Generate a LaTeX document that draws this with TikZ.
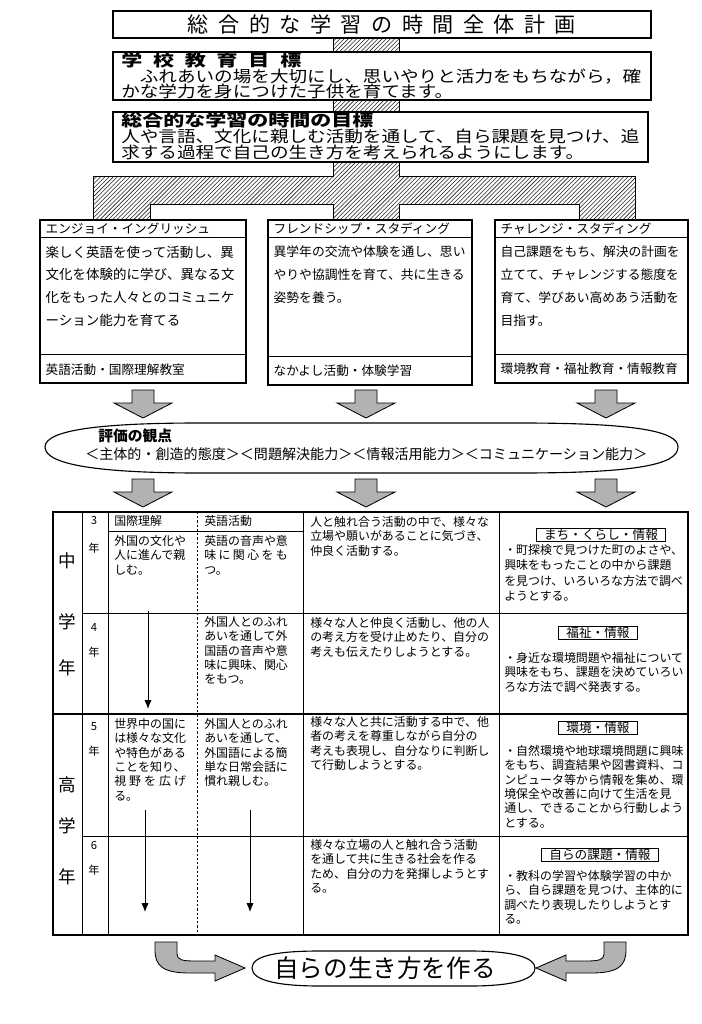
\documentclass[tikz,border=0pt]{standalone}
\usepackage{fontspec}
\setmainfont{Noto Sans CJK JP}
\newfontfamily\widecjk[FakeStretch=1.16]{Noto Sans CJK JP}
\newfontfamily\headcjk[FakeStretch=1.3]{Noto Sans CJK JP}
\usetikzlibrary{shapes.geometric, arrows.meta, positioning, calc, patterns}

\begin{document}
\begin{tikzpicture}[
  x=0.25mm, y=-0.25mm,
  frame/.style={draw=black, line width=0.9pt},
  hatch/.style={draw=black, line width=0.7pt, pattern=north east lines, pattern color=black!85},
  dots/.style={draw=black, line width=0.6pt, fill=black!30},
  txt/.style={anchor=north west, align=left, inner sep=0pt},
  goal/.style={txt, font={\widecjk\fontsize{11.4}{11.1}\selectfont\lineskiplimit=-5pt}},
  head/.style={txt, font={\headcjk\bfseries\fontsize{11.5}{13}\selectfont}},
  colttl/.style={anchor=west, inner sep=0pt, font=\fontsize{9}{11}\selectfont},
  colbody/.style={txt, font=\fontsize{9.1}{16.3}\selectfont},
  cell/.style={txt, font=\fontsize{8.5}{10.2}\selectfont},
  tag/.style={draw=black, line width=0.7pt, inner xsep=0.2cm, inner ysep=0.6pt,
              font=\fontsize{9}{11}\selectfont},
  side/.style={inner sep=0pt, font=\fontsize{12.5}{14}\selectfont},
  grade/.style={inner sep=0pt, font=\fontsize{8}{10}\selectfont},
  tline/.style={line width=0.6pt},
  tbold/.style={line width=1pt},
  outline/.style={draw=black, line width=0.8pt},
  down/.style={-{Latex[length=2.2mm,width=1.8mm]}, line width=0.7pt},
  blockdown/.pic={\path[dots] (-11,0) -- (11,0) -- (11,13) -- (29,13) -- (0,28)
                  -- (-29,13) -- (-11,13) -- cycle;},
  bendarrow/.pic={\path[dots] (0,0) -- (22,0) -- (22,12) .. controls (22,18) and (28,19) .. (40,19)
                  -- (60,19) -- (60,13) -- (90,26) -- (60,39) -- (60,31) -- (35,31)
                  .. controls (8,31) and (0,24) .. (0,8) -- cycle;},
]
\useasboundingbox (0,0) rectangle (701,1024);
% goals at the top
\node (title)  [frame, minimum width=13.45cm, minimum height=0.675cm, inner sep=0pt,
                font=\fontsize{15}{17}\selectfont] at (382,24.5)
  {\makebox[9.7cm][s]{総 合 的 な 学 習 の 時 間 全 体 計 画}};
\node (school) [frame, minimum width=13.45cm, minimum height=1.2cm] at (382,76) {};
\node (period) [frame, minimum width=13.375cm, minimum height=1.25cm] at (380.5,137) {};
\node (schoolhead) [head] at (121,52) {\makebox[4.5cm][s]{学 校 教 育 目 標}};
\node (schooltxt)  [goal] at (121,68.5)
  {　ふれあいの場を大切にし、思いやりと活力をもちながら，確\\
   かな学力を身につけた子供を育てます。};
\node (periodhead) [head] at (121,112.5) {総合的な学習の時間の目標};
\node (periodtxt)  [goal] at (121,129)
  {人や言語、文化に親しむ活動を通して、自ら課題を見つけ、追\\
   求する過程で自己の生き方を考えられるようにします。};
% three strands
\node (enjoy)  [frame, minimum width=5.15cm, minimum height=4.075cm] at (143,301.5) {};
\node (friend) [frame, minimum width=5.1cm, minimum height=4.125cm] at (370,302.5) {};
\node (chal)   [frame, minimum width=4.825cm, minimum height=4.075cm] at (591.5,301.5) {};
% hatched links
\path[hatch] ($(title.south)+(-49,0)$) rectangle ($(school.north)+(17,0)$);
\path[hatch] ($(school.south)+(-49,0)$) rectangle ($(period.north)+(18.5,0)$);
\path[hatch] ($(period.south)+(-47.5,0)$) -- ++(66,0) -- ++(0,14)
      -| ($(chal.north)+(43.5,0)$) -- ++(-56,0) -- ++(0,-15)
      -| ($(friend.north)+(29,0)$) -- ++(-66,0) -- ++(0,-15)
      -| ($(enjoy.north)+(7,0)$) -- ++(-57,0)
      |- ($(period.south)+(-47.5,14)$) -- cycle;
\draw[frame] (enjoy.north west) rectangle (enjoy.south east);
\draw[frame] (friend.north west) rectangle (friend.south east);
\draw[frame] (chal.north west) rectangle (chal.south east);
\draw[tline] ($(enjoy.north west)+(0,18)$) -- ($(enjoy.north east)+(0,18)$);
\draw[tline] ($(enjoy.north west)+(0,135)$) -- ($(enjoy.north east)+(0,135)$);
\draw[tline] ($(friend.north west)+(0,18)$) -- ($(friend.north east)+(0,18)$);
\draw[tline] ($(friend.north west)+(0,137)$) -- ($(friend.north east)+(0,137)$);
\draw[tline] ($(chal.north west)+(0,18)$) -- ($(chal.north east)+(0,18)$);
\draw[tline] ($(chal.north west)+(0,135)$) -- ($(chal.north east)+(0,135)$);
\node (enjoyttl)  [colttl] at ($(enjoy.north west)+(6,9.5)$) {エンジョイ・イングリッシュ};
\node (enjoybody) [colbody, font=\fontsize{9.6}{16.3}\selectfont] at ($(enjoy.north west)+(6,26)$)
  {楽しく英語を使って活動し、異\\文化を体験的に学び、異なる文\\化をもった人々とのコミュニケ\\ーション能力を育てる};
\node (enjoyfoot) [colttl] at ($(enjoy.north west)+(6,150)$) {英語活動・国際理解教室};
\node (friendttl)  [colttl] at ($(friend.north west)+(6,9.5)$) {フレンドシップ・スタディング};
\node (friendbody) [colbody] at ($(friend.north west)+(6,26)$)
  {異学年の交流や体験を通し、思い\\やりや協調性を育て、共に生きる\\姿勢を養う。};
\node (friendfoot) [colttl] at ($(friend.north west)+(6,151)$) {なかよし活動・体験学習};
\node (chalttl)  [colttl] at ($(chal.north west)+(6,9.5)$) {チャレンジ・スタディング};
\node (chalbody) [colbody] at ($(chal.north west)+(6,26)$)
  {自己課題をもち、解決の計画を\\立てて、チャレンジする態度を\\育て、学びあい高めあう活動を\\目指す。};
\node (chalfoot) [colttl] at ($(chal.north west)+(6,149)$) {環境教育・福祉教育・情報教育};
% viewpoints
\pic at (143,390) {blockdown};
\pic at (366,390) {blockdown};
\pic at (606,390) {blockdown};
\path[outline] (45,447) .. controls (45,430) and (100,423) .. (200,423) -- (520,423)
      .. controls (640,423) and (678,432) .. (678,447) .. controls (678,464) and (640,473) .. (520,473)
      -- (200,473) .. controls (100,473) and (45,465) .. cycle;
\node (evalhead) [txt, font=\bfseries\fontsize{10.5}{12}\selectfont] at (98,429) {評価の観点};
\node (evalpts)  [txt, font=\fontsize{10}{12}\selectfont] at (85,447)
  {＜主体的・創造的態度＞＜問題解決能力＞＜情報活用能力＞＜コミュニケーション能力＞};
\pic at (143,479) {blockdown};
\pic at (366,479) {blockdown};
\pic at (606,479) {blockdown};
% table
\draw[tbold] (53,512) rectangle (688,935);
\draw[tline] (82,512) -- (82,935);
\draw[tline] (108,512) -- (108,935);
\draw[tline] (303,512) -- (303,935);
\draw[tline] (499,512) -- (499,935);
\draw[tline, dash pattern=on 1.6pt off 1.4pt] (197,512) -- (197,935);
\draw[tline] (108,531) -- (303,531);
\draw[tline] (82,613) -- (688,613);
\draw[tbold] (53,714) -- (688,714);
\draw[tline] (82,836) -- (688,836);
\node (chu)   [side] at (67,561) {中};
\node (gakuA) [side] at (67,622) {学};
\node (nenA)  [side] at (67,668) {年};
\node (ko)    [side] at (67,785) {高};
\node (gakuB) [side] at (67,826) {学};
\node (nenB)  [side] at (67,877) {年};
\node (g3) [grade] at (94,520) {3};  \node (n3) [grade] at (94,548) {年};
\node (g4) [grade] at (94,627) {4};  \node (n4) [grade] at (94,652) {年};
\node (g5) [grade] at (94,727) {5};  \node (n5) [grade] at (94,751) {年};
\node (g6) [grade] at (94,845) {6};  \node (n6) [grade] at (94,870) {年};
\node (hdrintl) [cell] at (114,515) {国際理解};
\node (hdreng)  [cell] at (204,515) {英語活動};
\node (intl3) [cell] at (114,535) {外国の文化や\\人に進んで親\\しむ。};
\node (eng3)  [cell] at (204,535) {英語の音声や意\\\makebox[7em][s]{味 に 関 心 を も}\\つ。};
\node (mid3)  [cell] at (310,516)
  {人と触れ合う活動の中で、様々な\\立場や願いがあることに気づき、\\仲良く活動する。};
\node (tag3)  [tag] at (601,535) {まち・くらし・情報};
\node (topic3) [cell, font=\fontsize{8.5}{11}\selectfont] at (504,544)
  {・町探検で見つけた町のよさや、\\興味をもったことの中から課題\\を見つけ、いろいろな方法で調べ\\ようとする。};
\node (eng4)  [cell] at (204,616)
  {外国人とのふれ\\あいを通して外\\国語の音声や意\\味に興味、関心\\をもつ。};
\node (mid4)  [cell] at (310,617)
  {様々な人と仲良く活動し、他の人\\の考え方を受け止めたり、自分の\\考えも伝えたりしようとする。};
\node (tag4)  [tag] at (598,633) {福祉・情報};
\node (topic4) [cell] at (504,652)
  {・身近な環境問題や福祉について\\興味をもち、課題を決めていろい\\ろな方法で調べ発表する。};
\node (intl5) [cell] at (114,718)
  {世界中の国に\\は様々な文化\\や特色がある\\ことを知り、\\\makebox[6em][s]{視 野 を 広 げ}\\る。};
\node (eng5)  [cell] at (204,718)
  {外国人とのふれ\\あいを通して、\\外国語による簡\\単な日常会話に\\慣れ親しむ。};
\node (mid5)  [cell] at (310,716)
  {様々な人と共に活動する中で、他\\者の考えを尊重しながら自分の\\考えも表現し、自分なりに判断し\\て行動しようとする。};
\node (tag5)  [tag] at (598,728) {環境・情報};
\node (topic5) [cell] at (504,745)
  {・自然環境や地球環境問題に興味\\をもち、調査結果や図書資料、コ\\ンピュータ等から情報を集め、環\\境保全や改善に向けて生活を見\\通し、できることから行動しよう\\とする。};
\node (mid6)  [cell] at (310,839)
  {様々な立場の人と触れ合う活動\\を通して共に生きる社会を作る\\ため、自分の力を発揮しようとす\\る。};
\node (tag6)  [tag] at (600,855) {自らの課題・情報};
\node (topic6) [cell] at (504,870)
  {・教科の学習や体験学習の中か\\ら、自ら課題を見つけ、主体的に\\調べたり表現したりしようとす\\る。};
% carry-over arrows
\coordinate (intlA) at (148,611);  \coordinate (intlAend) at (148,709);
\coordinate (intlB) at (145,810);  \coordinate (intlBend) at (145,912);
\coordinate (engB)  at (250,810);  \coordinate (engBend)  at (250,912);
\draw[down] (intlA) -- (intlAend);
\draw[down] (intlB) -- (intlBend);
\draw[down] (engB) -- (engBend);
% goal at the bottom
\pic at (155,942) {bendarrow};
\pic[xscale=-1] at (626,942) {bendarrow};
\path[outline] (252,968) .. controls (252,955) and (280,951) .. (320,951) -- (470,951)
      .. controls (515,951) and (535,958) .. (535,968) .. controls (535,979) and (515,986) .. (470,986)
      -- (320,986) .. controls (280,986) and (252,981) .. cycle;
\node (selftxt) [inner sep=0pt, font=\fontsize{17.5}{20}\selectfont] at (385,968) {自らの生き方を作る};
\end{tikzpicture}
\end{document}
